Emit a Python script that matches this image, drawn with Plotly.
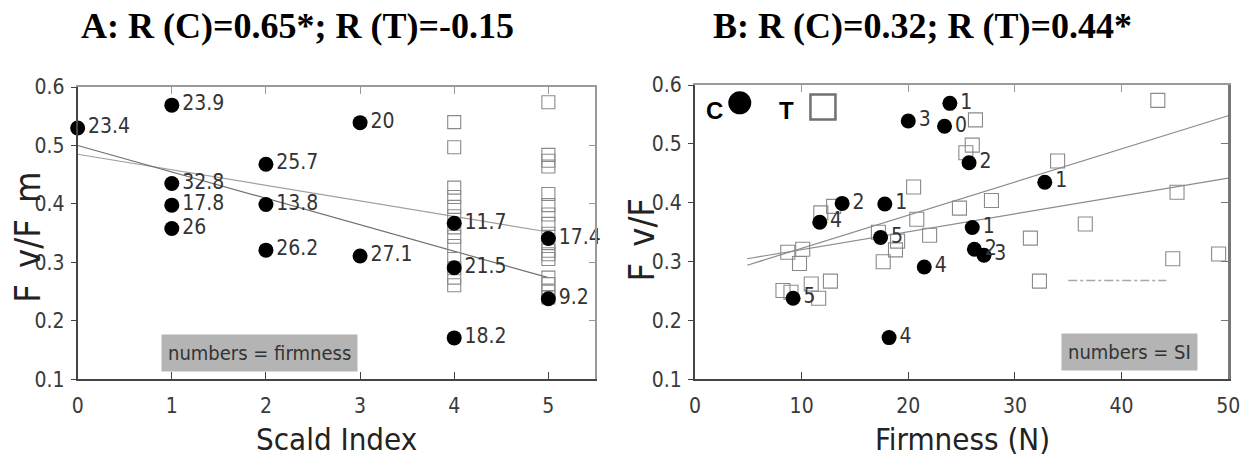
import plotly.graph_objects as go

W, H = 1255, 474

# ---------------- data ----------------
# Control (C) fruit: scald index, Fv/Fm, firmness (N)
c_scald = [0, 1, 1, 1, 1, 2, 2, 2, 3, 3, 4, 4, 4, 5, 5]
c_fvfm = [0.530, 0.569, 0.435, 0.398, 0.358, 0.468, 0.399, 0.321, 0.539, 0.311,
          0.367, 0.291, 0.171, 0.341, 0.238]
c_firm = [23.4, 23.9, 32.8, 17.8, 26, 25.7, 13.8, 26.2, 20, 27.1, 11.7, 21.5, 18.2, 17.4, 9.2]

# Treated (T) fruit in panel A: scald index and Fv/Fm
t_a_scald = [4] * 13 + [5] * 17
t_a_fvfm = [0.540, 0.497, 0.428, 0.412, 0.395, 0.379, 0.360, 0.344, 0.328, 0.306, 0.290, 0.274, 0.261,
            0.574, 0.484, 0.474, 0.464, 0.417, 0.398, 0.382, 0.366, 0.349, 0.333, 0.320, 0.306,
            0.274, 0.263, 0.250, 0.240, 0.314]

# Treated (T) fruit in panel B: firmness and Fv/Fm
t_b_firm = [20.5, 11.8, 13.0, 20.8, 22.0, 17.2, 19.0, 18.8, 17.65, 8.7, 10.1, 9.8, 8.25, 9.0, 10.9,
            11.6, 12.7, 43.4, 26.3, 26.0, 25.4, 34.0, 27.8, 24.8, 45.2, 36.6, 31.45, 44.8, 49.1, 32.3]
t_b_fvfm = [0.427, 0.383, 0.394, 0.372, 0.345, 0.350, 0.335, 0.320, 0.300, 0.316, 0.321, 0.297, 0.251,
            0.248, 0.262, 0.238, 0.267, 0.574, 0.541, 0.498, 0.485, 0.471, 0.404, 0.391, 0.418, 0.364,
            0.340, 0.305, 0.313, 0.267]

# regression lines
reg_a_x = [0, 5]
reg_a_c = [0.500, 0.274]
reg_a_t = [0.485, 0.352]
reg_b_x = [4.9, 50]
reg_b_1 = [0.294, 0.548]
reg_b_2 = [0.305, 0.442]
# faint dashed segment in panel B
dash_b_x = [35.0, 44.2]
dash_b_y = [0.268, 0.268]

key_labels = ["C", "T"]
titles = ["A: R (C)=0.65*; R (T)=-0.15", "B: R (C)=0.32; R (T)=0.44*"]

# ---------------- layout geometry ----------------
def px_x(p):
    return p / W

def px_y(p):
    return 1 - p / H

A_dom_x = [px_x(72.7), px_x(598)]
A_dom_y = [px_y(387), px_y(79)]
B_dom_x = [px_x(699), px_x(1240)]
B_dom_y = [px_y(387), px_y(77)]

NARROW = "DejaVu Sans Condensed, Liberation Sans Narrow, Arial Narrow, Liberation Sans, Arial, sans-serif"
SERIF = "Liberation Serif, Times New Roman, serif"
DARK = "#444444"
LIGHT = "#9a9a9a"
SQ = "#8a8a8a"

fig = go.Figure()

# ---------- Panel A ----------
fig.add_trace(go.Scatter(x=reg_a_x, y=reg_a_t, mode="lines", line=dict(color="#a0a0a0", width=1.2),
                         xaxis="x", yaxis="y", showlegend=False, hoverinfo="skip"))
fig.add_trace(go.Scatter(x=reg_a_x, y=reg_a_c, mode="lines", line=dict(color="#707070", width=1.2),
                         xaxis="x", yaxis="y", showlegend=False, hoverinfo="skip"))
fig.add_trace(go.Scatter(x=t_a_scald, y=t_a_fvfm, mode="markers",
                         marker=dict(symbol="square-open", size=13, color=SQ, line=dict(width=1.1)),
                         xaxis="x", yaxis="y", showlegend=False, cliponaxis=False))
fig.add_trace(go.Scatter(x=c_scald, y=c_fvfm, mode="markers+text",
                         text=[f"{v:g}" for v in c_firm], textposition="middle right",
                         textfont=dict(family=NARROW, size=21, color="#333333"),
                         marker=dict(symbol="circle", size=15, color="black"),
                         xaxis="x", yaxis="y", showlegend=False, cliponaxis=False))

# ---------- Panel B ----------
fig.add_trace(go.Scatter(x=reg_b_x, y=reg_b_1, mode="lines", line=dict(color="#8c8c8c", width=1.2),
                         xaxis="x2", yaxis="y2", showlegend=False, hoverinfo="skip"))
fig.add_trace(go.Scatter(x=reg_b_x, y=reg_b_2, mode="lines", line=dict(color="#8c8c8c", width=1.2),
                         xaxis="x2", yaxis="y2", showlegend=False, hoverinfo="skip"))
fig.add_trace(go.Scatter(x=dash_b_x, y=dash_b_y, mode="lines",
                         line=dict(color="#a8a8a8", width=1.5, dash="dashdot"),
                         xaxis="x2", yaxis="y2", showlegend=False, hoverinfo="skip"))
fig.add_trace(go.Scatter(x=t_b_firm, y=t_b_fvfm, mode="markers",
                         marker=dict(symbol="square-open", size=14, color=SQ, line=dict(width=1.1)),
                         xaxis="x2", yaxis="y2", showlegend=False, cliponaxis=False))
fig.add_trace(go.Scatter(x=c_firm, y=c_fvfm, mode="markers+text",
                         text=[str(s) for s in c_scald], textposition="middle right",
                         textfont=dict(family=NARROW, size=21, color="#333333"),
                         marker=dict(symbol="circle", size=15, color="black"),
                         xaxis="x2", yaxis="y2", showlegend=False, cliponaxis=False))
# key
fig.add_trace(go.Scatter(x=[4.2], y=[0.570], mode="markers",
                         marker=dict(symbol="circle", size=23, color="black"),
                         xaxis="x2", yaxis="y2", showlegend=False, cliponaxis=False))
fig.add_trace(go.Scatter(x=[12.0], y=[0.563], mode="markers",
                         marker=dict(symbol="square-open", size=25, color="#707070", line=dict(width=2.5)),
                         xaxis="x2", yaxis="y2", showlegend=False, cliponaxis=False))

# dummy traces for overlay (top / right) axes
for xa, ya in (("x3", "y3"), ("x4", "y4")):
    fig.add_trace(go.Scatter(x=[None], y=[None], xaxis=xa, yaxis=ya, showlegend=False))

tickfont = dict(family=NARROW, size=21, color="#3a3a3a")

def xax(dom, rng, dtick, anchor, **kw):
    d = dict(domain=dom, range=rng, dtick=dtick, tick0=0, anchor=anchor, showgrid=False, zeroline=False,
             showline=True, linecolor=DARK, linewidth=2, ticks="inside", ticklen=7, tickcolor=DARK,
             tickfont=tickfont, ticklabelstandoff=6, mirror=False)
    d.update(kw)
    return d

def yax(dom, anchor, **kw):
    d = dict(domain=dom, range=[0.1, 0.6], dtick=0.1, tick0=0.1, anchor=anchor, showgrid=False,
             zeroline=False, showline=True, linecolor=DARK, linewidth=2, ticks="outside", ticklen=5,
             tickcolor=DARK, tickfont=tickfont, tickformat=".1f", ticklabelstandoff=2, mirror=False)
    d.update(kw)
    return d

fig.update_layout(
    width=W, height=H, margin=dict(l=0, r=0, t=0, b=0),
    paper_bgcolor="white", plot_bgcolor="white", showlegend=False,
    xaxis=xax(A_dom_x, [0, 5.5], 1, "y"),
    yaxis=yax(A_dom_y, "x"),
    xaxis2=xax(B_dom_x, [0, 50], 10, "y2"),
    yaxis2=yax(B_dom_y, "x2"),
    xaxis3=xax(A_dom_x, [0, 5.5], 1, "y3", side="top", overlaying="x", showticklabels=False,
               linecolor=LIGHT, linewidth=1.5, tickcolor=LIGHT),
    yaxis3=yax(A_dom_y, "x3", side="right", overlaying="y", showticklabels=False, ticks="inside",
               linecolor=LIGHT, linewidth=1.5, tickcolor=LIGHT, ticklen=7),
    xaxis4=xax(B_dom_x, [0, 50], 10, "y4", side="top", overlaying="x2", showticklabels=False,
               linecolor=LIGHT, linewidth=1.5, tickcolor=LIGHT),
    yaxis4=yax(B_dom_y, "x4", side="right", overlaying="y2", showticklabels=False, ticks="inside",
               linecolor="#777777", linewidth=2.5, tickcolor="#777777", ticklen=7),
)

def pann(text, x, y, font, **kw):
    d = dict(text=text, x=px_x(x), y=px_y(y), xref="paper", yref="paper", xanchor="center",
             yanchor="middle", showarrow=False, font=font)
    d.update(kw)
    return d

ann = []
titlefont = dict(family=SERIF, size=36, color="black")
ann.append(pann(f"<b>{titles[0]}</b>", 296, 15, titlefont))
ann.append(pann(f"<b>{titles[1]}</b>", 930, 15, titlefont))
axfont = dict(family=NARROW, size=31, color="#222222")
ytfont = dict(family=NARROW, size=36, color="#222222")
ann.append(pann("Scald Index", 335, 450, axfont))
ann.append(pann("Firmness (N)", 970, 450, axfont))
ann.append(pann("F\u2002v/F\u2002m", 21, 237, ytfont, textangle=-90))
ann.append(pann("F\u2002v/F", 645, 240, ytfont, textangle=-90))
# note boxes
boxfont = dict(family=NARROW, size=20, color="#333333")
ann.append(dict(text="numbers = firmness", x=1.935, y=0.145, xref="x", yref="y", showarrow=False,
                xanchor="center", yanchor="middle", font=boxfont, bgcolor="#b4b4b4", borderpad=6))
ann.append(dict(text="numbers = SI", x=40.7, y=0.147, xref="x2", yref="y2", showarrow=False,
                xanchor="center", yanchor="middle", font=boxfont, bgcolor="#b4b4b4", borderpad=6))
keyfont = dict(family="Liberation Sans, Arial", size=24, color="black")
ann.append(dict(text=f"<b>{key_labels[0]}</b>", x=1.8, y=0.557, xref="x2", yref="y2", showarrow=False,
                xanchor="center", yanchor="middle", font=keyfont))
ann.append(dict(text=f"<b>{key_labels[1]}</b>", x=8.6, y=0.557, xref="x2", yref="y2", showarrow=False,
                xanchor="center", yanchor="middle", font=keyfont))
fig.update_layout(annotations=ann)

fig.write_html("out.html")
